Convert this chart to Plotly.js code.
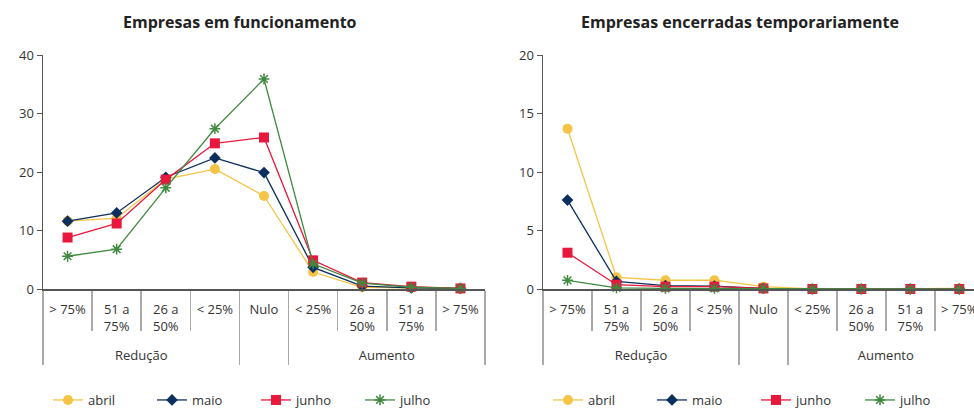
<!DOCTYPE html>
<html>
<head>
<meta charset="utf-8">
<script src="https://cdn.plot.ly/plotly-3.0.1.min.js"></script>
<style>html,body{margin:0;padding:0;background:#fff;}#chart{width:974px;height:408px;}</style>
</head>
<body>
<div id="chart"></div>
<script>
// Categories (two-level x axis); the "Aumento" labels carry a zero-width space so
// they are distinct from the "Redução" ones and keep their own order.
const groups = ['<br>Redução','<br>Redução','<br>Redução','<br>Redução',' ',
                '<br>Aumento','<br>Aumento','<br>Aumento','<br>Aumento'];
const categories = ['> 75%','51 a<br>75%','26 a<br>50%','< 25%','Nulo',
                    '< 25%\u200b','26 a<br>50%\u200b','51 a<br>75%\u200b','> 75%\u200b'];
const seriesNames = ['abril','maio','junho','julho'];

// Empresas em funcionamento (%)
const funcAbril = [11.6, 12.1, 18.8, 20.5, 15.9, 2.9, 0.3, 0.2, 0.1];
const funcMaio  = [11.6, 13.0, 19.1, 22.4, 19.9, 3.7, 0.5, 0.2, 0.1];
const funcJunho = [8.8, 11.2, 18.7, 24.9, 25.9, 4.9, 1.1, 0.4, 0.1];
const funcJulho = [5.6, 6.8, 17.3, 27.4, 35.9, 4.3, 1.0, 0.3, 0.1];

// Empresas encerradas temporariamente (%)
const encAbril = [13.7, 1.0, 0.75, 0.75, 0.2, 0.0, 0.0, 0.0, 0.05];
const encMaio  = [7.6, 0.65, 0.28, 0.25, 0.05, 0.0, 0.0, 0.0, 0.0];
const encJunho = [3.1, 0.37, 0.2, 0.2, 0.05, 0.0, 0.0, 0.0, 0.0];
const encJulho = [0.74, 0.1, 0.05, 0.05, 0.05, 0.0, 0.0, 0.0, 0.0];

const colors = ['#F5C444', '#0D2F5E', '#E8173C', '#3F8A3F'];
const symbols = ['circle', 'diamond', 'square', 'asterisk-open'];
const sizes = [10, 9, 10, 9];

const funcData = [funcAbril, funcMaio, funcJunho, funcJulho];
const encData = [encAbril, encMaio, encJunho, encJulho];

function mk(ys, i, xa, ya, lg) {
  return {
    type: 'scatter', mode: 'lines+markers', name: seriesNames[i],
    x: [groups, categories], y: ys, xaxis: xa, yaxis: ya, legend: lg,
    line: {color: colors[i], width: 1.3},
    marker: {symbol: symbols[i], size: sizes[i], color: colors[i],
             line: {color: colors[i], width: i === 3 ? 1.5 : 0}},
    cliponaxis: false
  };
}
const traces = [];
funcData.forEach((ys, i) => traces.push(mk(ys, i, 'x', 'y', 'legend')));
encData.forEach((ys, i) => traces.push(mk(ys, i, 'x2', 'y2', 'legend2')));

const font = {family: '"Open Sans", "Noto Sans", sans-serif', size: 13, color: '#333'};
const xCommon = {
  type: 'multicategory', showline: true, linecolor: '#555', linewidth: 1.5,
  ticks: 'outside', ticklen: 40, tickcolor: '#aaa', tickwidth: 1.5, ticklabelstandoff: 8,
  showdividers: true, dividercolor: '#aaa', dividerwidth: 1.5, automargin: false,
  showgrid: false, zeroline: false, tickfont: {size: 13, color: '#333'}
};
const yCommon = {
  showline: true, linecolor: '#555', linewidth: 1.5, ticks: 'outside', ticklen: 5, automargin: false,
  tickcolor: '#555', showgrid: false, zeroline: false, tickfont: {size: 13, color: '#333'}
};
const legendCommon = {
  orientation: 'h', yanchor: 'middle', xanchor: 'left', xref: 'container', yref: 'container',
  y: 1 - 400/408, font: {size: 13, color: '#333'}, entrywidth: 59, itemwidth: 30,
  bgcolor: 'rgba(0,0,0,0)'
};

const layout = {
  width: 974, height: 408,
  margin: {l: 0, r: 0, t: 55, b: 119},
  paper_bgcolor: '#fff', plot_bgcolor: '#fff',
  font: font, showlegend: true,
  xaxis: Object.assign({}, xCommon, {domain: [43/974, 485/974], anchor: 'y', range: [-0.5, 8.5]}),
  yaxis: Object.assign({}, yCommon, {domain: [0, 1], anchor: 'x', range: [0, 40], dtick: 10}),
  xaxis2: Object.assign({}, xCommon, {domain: [543/974, 1], anchor: 'y2', range: [-0.5, 8.3]}),
  yaxis2: Object.assign({}, yCommon, {domain: [0, 1], anchor: 'x2', range: [0, 20], dtick: 5}),
  legend: Object.assign({}, legendCommon, {x: 48/974}),
  legend2: Object.assign({}, legendCommon, {x: 548/974}),
  annotations: [
    {text: '<b>Empresas em funcionamento</b>', xref: 'paper', yref: 'paper', x: 240/974, y: 1, yshift: 33,
     showarrow: false, xanchor: 'center', yanchor: 'middle', font: {size: 16, color: '#222'}},
    {text: '<b>Empresas encerradas temporariamente</b>', xref: 'paper', yref: 'paper', x: 740/974, y: 1, yshift: 33,
     showarrow: false, xanchor: 'center', yanchor: 'middle', font: {size: 16, color: '#222'}}
  ]
};

Plotly.newPlot('chart', traces, layout, {displayModeBar: false, staticPlot: true});
</script>
</body>
</html>
